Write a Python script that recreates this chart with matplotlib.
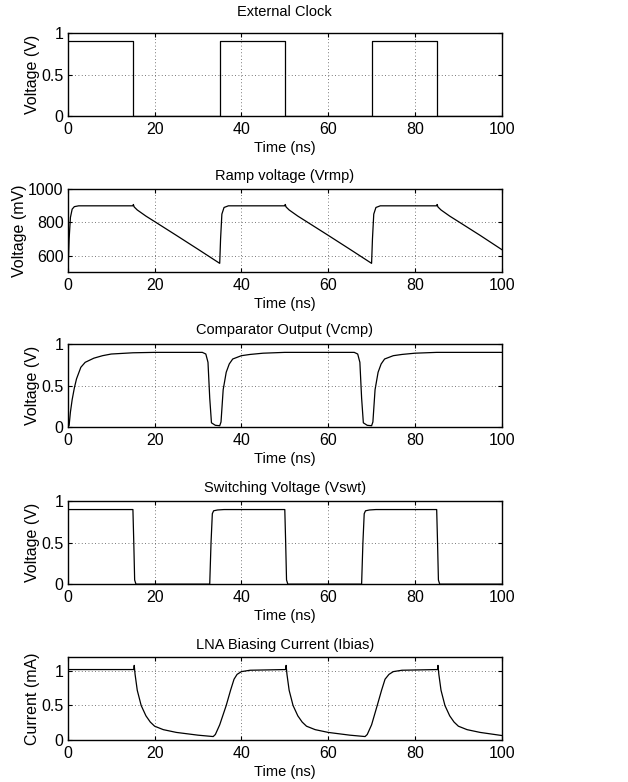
import matplotlib
matplotlib.use('Agg')
import matplotlib.pyplot as plt

plt.rcParams['font.family'] = ['Liberation Sans', 'DejaVu Sans']
plt.rcParams['font.size'] = 10

# --- data (time in ns) ---
clk_t = [0, 15, 15, 35, 35, 50, 50, 70, 70, 85, 85, 100]
clk_v = [0.9, 0.9, 0, 0, 0.9, 0.9, 0, 0, 0.9, 0.9, 0, 0]

rmp_t = [0, 0.3, 0.6, 1.0, 1.5, 2.5, 15, 15.1, 15.3, 16, 18, 20, 25, 30, 35,
         35.2, 35.5, 36, 37, 50, 50.1, 50.3, 51, 53, 55, 60, 65, 70,
         70.2, 70.5, 71, 72, 85, 85.1, 85.3, 86, 88, 90, 95, 100]
rmp_v = [470, 700, 830, 880, 895, 900, 900, 908, 893, 875, 838, 805, 722, 638, 553,
         700, 850, 890, 900, 900, 908, 893, 875, 838, 805, 722, 638, 553,
         700, 850, 890, 900, 900, 908, 893, 875, 838, 805, 722, 636]

cmp_t = [0, 0.3, 0.6, 1.0, 1.5, 2, 3, 4, 6, 8, 10, 15, 20, 31, 31.8, 32.3, 32.7, 33.1,
         34, 35, 35.3, 35.8, 36.5, 37.2, 38, 40, 42, 45, 50, 66, 66.8, 67.3, 67.7, 68.1,
         69, 70, 70.3, 70.8, 71.5, 72.2, 73, 75, 77, 80, 85, 100]
cmp_v = [0.0, 0.02, 0.18, 0.33, 0.47, 0.58, 0.72, 0.78, 0.83, 0.86, 0.88, 0.895, 0.9, 0.9,
         0.88, 0.78, 0.35, 0.05, 0.02, 0.015, 0.06, 0.45, 0.66, 0.76, 0.82, 0.86, 0.875,
         0.89, 0.9, 0.9, 0.88, 0.78, 0.35, 0.05, 0.02, 0.015, 0.06, 0.45, 0.66, 0.76, 0.82,
         0.86, 0.875, 0.89, 0.9, 0.9]

swt_t = [0, 15, 15.2, 15.4, 15.7, 32.7, 33.0, 33.3, 33.6, 34.5, 36, 50, 50.2, 50.4, 50.7,
         67.7, 68.0, 68.3, 68.6, 69.5, 71, 85, 85.2, 85.4, 85.7, 100]
swt_v = [0.9, 0.9, 0.5, 0.05, 0, 0, 0.5, 0.85, 0.885, 0.895, 0.9, 0.9, 0.5, 0.05, 0,
         0, 0.5, 0.85, 0.885, 0.895, 0.9, 0.9, 0.5, 0.05, 0, 0]

ib_t = [0, 15.2, 15.3, 15.5, 16, 16.9, 18, 19, 20, 22, 25, 30, 33.5, 34, 35, 36.5,
        37.5, 38.3, 39, 40, 42, 50.2, 50.3, 50.5, 51, 51.9, 53, 54, 55, 57, 60, 65,
        68.5, 69, 70, 71.3, 72.3, 73.1, 74, 75, 77, 85.2, 85.3, 85.5, 86, 86.9, 88,
        89, 90, 92, 95, 100]
ib_v = [1.02, 1.02, 1.08, 0.95, 0.72, 0.5, 0.35, 0.26, 0.2, 0.15, 0.11, 0.07, 0.05, 0.08,
        0.22, 0.5, 0.72, 0.88, 0.95, 0.99, 1.01, 1.02, 1.08, 0.95, 0.72, 0.5, 0.35, 0.26,
        0.2, 0.15, 0.11, 0.07, 0.05, 0.08, 0.22, 0.5, 0.72, 0.88, 0.95, 0.99, 1.01, 1.02,
        1.08, 0.95, 0.72, 0.5, 0.35, 0.26, 0.2, 0.15, 0.11, 0.065]

titles = ['External Clock', 'Ramp voltage (Vrmp)', 'Comparator Output (Vcmp)',
          'Switching Voltage (Vswt)', 'LNA Biasing Current (Ibias)']
ylabels = ['Voltage (V)', 'Voltage (mV)', 'Voltage (V)', 'Voltage (V)', 'Current (mA)']
ylims = [(0, 1), (500, 1000), (0, 1), (0, 1), (0, 1.2)]
yticks = [[0, 0.5, 1], [600, 800, 1000], [0, 0.5, 1], [0, 0.5, 1], [0, 0.5, 1]]
ytlabels = [['0', '0.5', '1'], ['600', '800', '1000'], ['0', '0.5', '1'],
            ['0', '0.5', '1'], ['0', '0.5', '1']]
xticks = [0, 20, 40, 60, 80, 100]
series = [(clk_t, clk_v), (rmp_t, rmp_v), (cmp_t, cmp_v), (swt_t, swt_v), (ib_t, ib_v)]

fig = plt.figure(figsize=(6.28, 7.82), dpi=100)
bottoms = [0.8517, 0.652, 0.454, 0.253, 0.0537]
title_pads = [12, 7, 7, 7, 6]

for i in range(5):
    ax = fig.add_axes([0.108, bottoms[i], 0.691, 0.106])
    t, v = series[i]
    ax.plot(t, v, color='black', linewidth=0.9)
    ax.set_xlim(0, 100)
    ax.set_ylim(*ylims[i])
    ax.set_xticks(xticks)
    ax.set_yticks(yticks[i])
    ax.set_yticklabels(ytlabels[i])
    ax.grid(True, linestyle=(0, (1, 3)), color='0.3', linewidth=0.6)
    ax.tick_params(direction='in', top=True, right=True, length=3, labelsize=11.5)
    ax.tick_params(axis='x', pad=4)
    ax.tick_params(axis='y', pad=3)
    for s in ax.spines.values():
        s.set_linewidth(1.0)
    ax.set_title(titles[i], fontsize=10.5, pad=title_pads[i])
    ax.set_xlabel('Time (ns)', fontsize=10.5, labelpad=3)
    ax.set_ylabel(ylabels[i], fontsize=11.5, labelpad=1)

fig.savefig('out.png', dpi=100)
